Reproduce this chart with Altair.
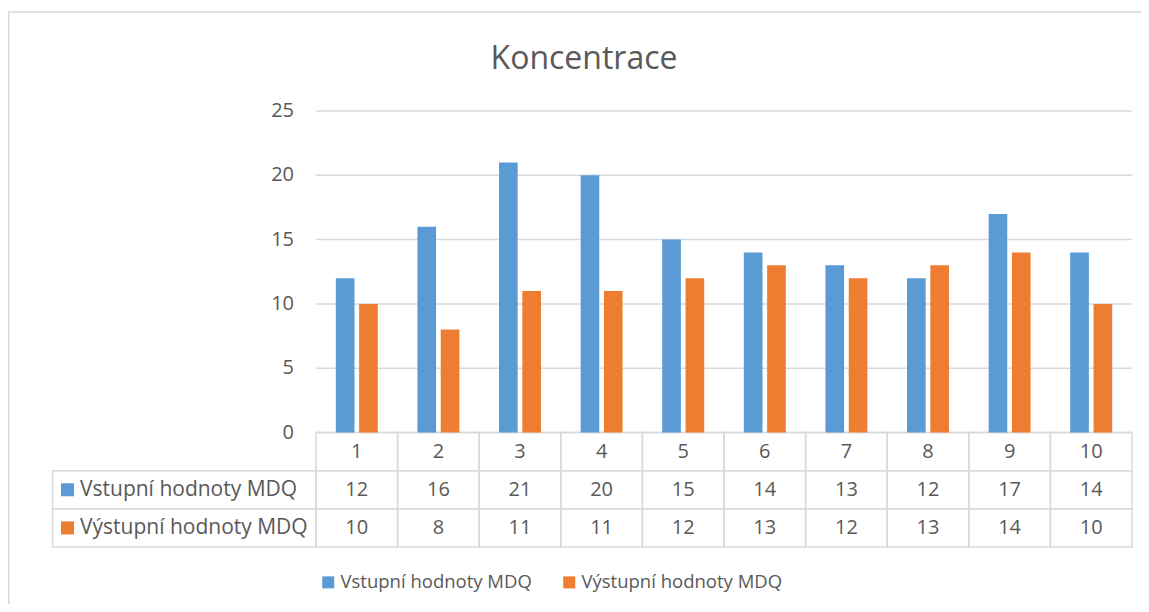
import altair as alt
import pandas as pd

# ---- data ----
categories = ["1", "2", "3", "4", "5", "6", "7", "8", "9", "10"]
series = ["Vstupní hodnoty MDQ", "Výstupní hodnoty MDQ"]
vstup = [12, 16, 21, 20, 15, 14, 13, 12, 17, 14]
vystup = [10, 8, 11, 11, 12, 13, 12, 13, 14, 10]
y_ticks = [0, 5, 10, 15, 20, 25]
title_text = ["Koncentrace"]

colors = ["#5B9BD5", "#ED7D31"]
txt = "#595959"
grid = "#D9D9D9"
FONT = "Open Sans"

HDR = "hdr"
rows = [HDR] + series

W, H = 1133, 496

bar_df = pd.DataFrame(
    [{"cat": c, "series": series[0], "value": v} for c, v in zip(categories, vstup)]
    + [{"cat": c, "series": series[1], "value": v} for c, v in zip(categories, vystup)]
)
tick_df = pd.DataFrame({"tick": y_ticks})

cell_df = pd.DataFrame(
    [{"cat": c, "row": HDR, "label": c} for c in categories]
    + [{"cat": c, "row": series[0], "label": str(v)} for c, v in zip(categories, vstup)]
    + [{"cat": c, "row": series[1], "label": str(v)} for c, v in zip(categories, vystup)]
)
rowlab_df = pd.DataFrame({"row": series, "series": series})
title_df = pd.DataFrame({"t": title_text})

x_scale = alt.Scale(domain=categories, range=[308, 1124], paddingInner=0, paddingOuter=0)
y_val_scale = alt.Scale(domain=[0, 25], range=[324.5, 3], nice=False, zero=True)
row_scale = alt.Scale(type="band", domain=rows, range=[324.5, 439], paddingInner=0, paddingOuter=0)
color_scale = alt.Scale(domain=series, range=colors)

X = alt.X("cat:N", scale=x_scale, axis=None, sort=categories)

gridlines = alt.Chart(tick_df).mark_rule(color=grid, strokeWidth=1.5).encode(
    y=alt.Y("tick:Q", scale=y_val_scale, axis=None),
    x=alt.value(308),
    x2=alt.value(1124),
)

ylabels = alt.Chart(tick_df).mark_text(
    align="right", baseline="middle", font=FONT, fontSize=20, color=txt
).encode(
    y=alt.Y("tick:Q", scale=y_val_scale, axis=None),
    x=alt.value(286),
    text=alt.Text("tick:Q"),
)

bars = alt.Chart(bar_df).mark_bar().encode(
    x=X,
    xOffset=alt.XOffset("series:N", sort=series,
                        scale=alt.Scale(domain=series, paddingInner=0.2, paddingOuter=0.85)),
    y=alt.Y("value:Q", scale=y_val_scale, axis=None),
    color=alt.Color(
        "series:N",
        scale=color_scale,
        sort=series,
        legend=alt.Legend(
            title=None,
            orient="none",
            direction="horizontal",
            legendX=311,
            legendY=465,
            symbolType="square",
            symbolSize=144,
            symbolStrokeWidth=0,
            symbolOpacity=1,
            labelFont=FONT,
            labelFontSize=18.5,
            labelColor=txt,
            labelOffset=3,
            columnPadding=28,
            labelLimit=400,
        ),
    ),
)

cells = alt.Chart(cell_df).mark_rect(fill="white", fillOpacity=0, stroke=grid, strokeWidth=1.5).encode(
    x=X,
    y=alt.Y("row:N", scale=row_scale, axis=None),
)
label_cells = alt.Chart(rowlab_df).mark_rect(fill="white", fillOpacity=0, stroke=grid, strokeWidth=1.5).encode(
    x=alt.value(44.5),
    x2=alt.value(308),
    y=alt.Y("row:N", scale=row_scale, axis=None),
)
cell_text = alt.Chart(cell_df).mark_text(
    align="center", baseline="middle", font=FONT, fontSize=20, color=txt
).encode(
    x=X,
    y=alt.Y("row:N", scale=row_scale, axis=None),
    text="label:N",
)
row_squares = alt.Chart(rowlab_df).mark_point(shape="square", filled=True, size=169, opacity=1, strokeWidth=0).encode(
    x=alt.value(59.5),
    y=alt.Y("row:N", scale=row_scale, axis=None),
    color=alt.Color("series:N", scale=color_scale, legend=None),
)
row_text = alt.Chart(rowlab_df).mark_text(
    align="left", baseline="middle", font=FONT, fontSize=21, color=txt
).encode(
    x=alt.value(72),
    y=alt.Y("row:N", scale=row_scale, axis=None),
    text="row:N",
)

title = alt.Chart(title_df).mark_text(
    align="center", baseline="alphabetic", font=FONT, fontSize=32, color=txt
).encode(
    x=alt.value(576),
    y=alt.value(-39),
    text="t:N",
)

border_top = alt.Chart(alt.Data(values=[{}])).mark_rule(color=grid, strokeWidth=1.5).encode(
    x=alt.value(0), x2=alt.value(W), y=alt.value(-96)
)
border_left = alt.Chart(alt.Data(values=[{}])).mark_rule(color=grid, strokeWidth=1.5).encode(
    x=alt.value(0.75), y=alt.value(-96), y2=alt.value(H)
)

chart = alt.layer(
    border_top, border_left, title, gridlines, ylabels, cells, label_cells, bars,
    cell_text, row_squares, row_text
).resolve_scale(
    y="independent"
).properties(
    width=W,
    height=H,
    background="white",
    autosize=alt.AutoSizeParams(type="none"),
    padding={"left": 0, "top": 100, "right": 0, "bottom": 0},
).configure_view(stroke=None)

chart.save("out.html", embed_options={"renderer": "svg", "actions": False})
